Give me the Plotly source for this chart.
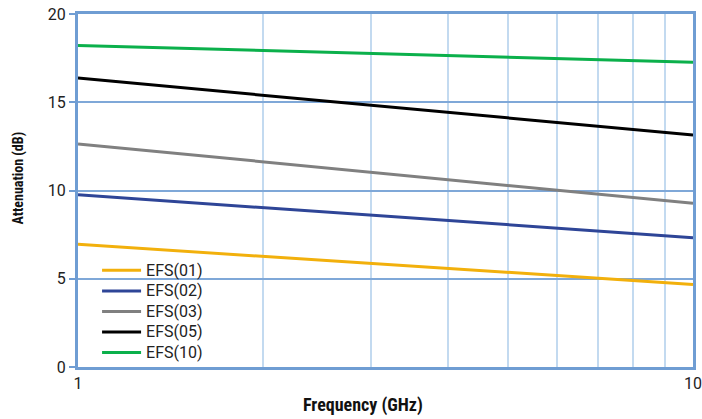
import plotly.graph_objects as go

freq_ghz = [1, 10]
series_names = ["EFS(01)", "EFS(02)", "EFS(03)", "EFS(05)", "EFS(10)"]
efs01 = [6.95, 4.68]
efs02 = [9.76, 7.33]
efs03 = [12.64, 9.27]
efs05 = [16.37, 13.14]
efs10 = [18.22, 17.27]
series_values = [efs01, efs02, efs03, efs05, efs10]
colors = ["#F2B00C", "#2E4597", "#808080", "#000000", "#0BB04B"]
y_ticks = [0, 5, 10, 15, 20]
x_ticks = [1, 10]
x_title = "Frequency (GHz)"
y_title = "Attenuation (dB)"

fig = go.Figure()
for name, vals, col in zip(series_names, series_values, colors):
    fig.add_trace(go.Scatter(x=freq_ghz, y=vals,
                             name="<span style='font-size:16px'>" + name + "</span>",
                             mode="lines", line=dict(color=col, width=3)))

axis_blue = "#6F9DD3"
cond = "Roboto Condensed, Liberation Sans Narrow, Roboto, Arial, sans-serif"

# white backdrop of legend area (covers gridlines, under traces)
fig.add_shape(type="rect", xref="paper", yref="paper",
              x0=0.008, x1=0.234, y0=0.005, y1=0.305,
              fillcolor="white", line=dict(width=0), layer="between")

fig.add_annotation(text="<b>" + x_title + "</b>", xref="paper", yref="paper",
                   x=0.464, y=-0.108, xanchor="center", yanchor="middle",
                   showarrow=False, font=dict(family=cond, size=18, color="#111111"))
fig.add_annotation(text="<b>" + y_title + "</b>", xref="paper", yref="paper",
                   x=-0.097, y=0.535, xanchor="center", yanchor="middle",
                   textangle=-90, showarrow=False,
                   font=dict(family=cond, size=14, color="#111111"))

fig.update_layout(
    width=702, height=419,
    margin=dict(l=78, r=9, t=14, b=52),
    paper_bgcolor="white", plot_bgcolor="white",
    font=dict(family="Roboto, Arial, sans-serif", size=16, color="#222222"),
    showlegend=True,
    legend=dict(x=0.031, y=-0.003, xanchor="left", yanchor="bottom",
                bgcolor="rgba(255,255,255,0)", font=dict(size=13.5, color="#222222"),
                tracegroupgap=0, itemwidth=39),
    xaxis=dict(type="log", range=[0, 1], tickvals=x_ticks, ticktext=["1", "10"],
               automargin=False, ticklabeloverflow="allow",
               showgrid=True, gridcolor="#C3DAF0", gridwidth=2,
               minor=dict(showgrid=True, gridcolor="#C3DAF0", gridwidth=2,
                          tickvals=[2, 3, 4, 5, 6, 7, 8, 9], ticks=""),
               showline=True, linecolor=axis_blue, linewidth=3, mirror=True,
               ticks="", zeroline=False),
    yaxis=dict(range=[0, 20], tickvals=y_ticks, automargin=False,
               ticklabeloverflow="allow",
               showgrid=True, gridcolor="#7FA8D8", gridwidth=2,
               showline=True, linecolor=axis_blue, linewidth=3, mirror=True,
               ticks="outside", ticklen=6, tickcolor=axis_blue, tickwidth=2,
               zeroline=False),
)

fig.write_html("out.html",
               config={"displayModeBar": False},
               post_script="document.body.style.margin='0';document.body.style.overflow='hidden';")
